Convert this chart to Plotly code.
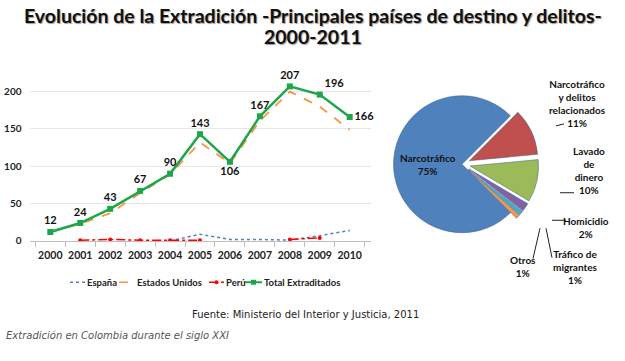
import plotly.graph_objects as go

years = ["2000", "2001", "2002", "2003", "2004", "2005", "2006", "2007", "2008", "2009", "2010"]
espana = [None, None, None, 0, 0, 9, 2, 2, 1, 7, 14]
estados_unidos = [12, 23, 37, 64, 89, 132, 104, 161, 200, 180, 149]
peru = [None, 1, 2, 1, 1, 1, None, None, 2, 4, None]
total = [12, 24, 43, 67, 90, 143, 106, 167, 207, 196, 166]
total_pos = ["top center", "top center", "top center", "top center", "top center", "top center",
             "bottom center", "top center", "top center", "top right", "middle right"]
series_names = ["España", "Estados Unidos", "Perú", "Total Extraditados"]

pie_labels = ["Narcotráfico", "Narcotráfico y delitos relacionados", "Lavado de dinero",
              "Homicidio", "Tráfico de migrantes", "Otros"]
pie_values = [75, 11, 10, 2, 1, 1]
pie_colors = ["#4F81BD", "#C0504D", "#9BBB59", "#8064A2", "#4BACC6", "#F79646"]

W, H = 625, 361
def px(x):
    return x / W
def py(y):
    return (H - y) / H

FONT = "Lato"
C_ES, C_US, C_PE, C_TO = "#4F81BD", "#F79646", "#FF0000", "#1EA64A"

fig = go.Figure()
fig.add_trace(go.Scatter(x=years, y=espana, name=series_names[0], mode="lines",
                         line=dict(color=C_ES, dash="dot", width=1.5)))
fig.add_trace(go.Scatter(x=years, y=estados_unidos, name=series_names[1], mode="lines",
                         line=dict(color=C_US, dash="dash", width=1.8)))
fig.add_trace(go.Scatter(x=years, y=peru, name=series_names[2], mode="lines+markers",
                         line=dict(color=C_PE, dash="dashdot", width=1.5),
                         marker=dict(size=4, color=C_PE), cliponaxis=False))
fig.add_trace(go.Scatter(x=years, y=total, name=series_names[3], mode="lines+markers+text",
                         line=dict(color=C_TO, width=2.5),
                         marker=dict(symbol="square", size=6, color=C_TO),
                         text=[str(v) for v in total], textposition=total_pos,
                         textfont=dict(family=FONT, size=11, color="#111", weight="bold"),
                         cliponaxis=False))

fig.add_trace(go.Pie(labels=pie_labels, values=pie_values, sort=False, direction="clockwise",
                     rotation=135, pull=[0, 0.12, 0.12, 0.12, 0.12, 0.12],
                     marker=dict(colors=pie_colors, line=dict(color="#3a5f8a", width=0.5)),
                     texttemplate=["%{label}<br>%{percent:.0%}", "", "", "", "", ""],
                     textposition="inside", insidetextorientation="horizontal",
                     textfont=dict(family=FONT, size=10, color="#111", weight="bold"),
                     domain=dict(x=[px(384), px(540)], y=[py(245), py(89)]),
                     showlegend=False, hoverinfo="label+percent"))

fig.update_layout(
    width=W, height=H, autosize=False,
    margin=dict(l=0, r=0, t=0, b=0, pad=0),
    paper_bgcolor="white", plot_bgcolor="white",
    font=dict(family=FONT, size=10, color="#222"),
    showlegend=False,
    xaxis=dict(domain=[px(29.5), px(370.5)], type="category", showgrid=False,
               showline=True, linecolor="#BFBFBF", linewidth=1, tickangle=0,
               ticks="outside", tickson="boundaries", ticklen=5, tickcolor="#BFBFBF",
               ticklabelstandoff=4,
               tickfont=dict(family=FONT, size=10.5, color="#222", weight="bold")),
    yaxis=dict(domain=[py(245), py(78)], range=[0, 220], tickvals=[0, 50, 100, 150, 200],
               showgrid=True, gridcolor="#E6E6E6", zeroline=False, showline=False,
               ticklabelstandoff=7,
               tickfont=dict(family=FONT, size=10, color="#222", weight="bold")),
)

ann = []
shapes = []
title_font = dict(family=FONT, size=19.5, color="#111", weight="bold",
                  shadow="1px 1px 1px #999")
ann.append(dict(text="Evolución de la Extradición -Principales países de destino y delitos-",
                x=px(313), y=py(16), xref="paper", yref="paper", showarrow=False,
                xanchor="center", yanchor="middle", font=title_font))
ann.append(dict(text="2000-2011", x=px(313), y=py(37), xref="paper", yref="paper", showarrow=False,
                xanchor="center", yanchor="middle", font=title_font))

# custom compact legend
leg_font = dict(family=FONT, size=9.5, color="#222", weight="bold")
leg_y = 287
leg_items = [(series_names[0], C_ES, "dot", None, 70, 85, 85),
             (series_names[1], C_US, "dash", None, 119, 134, 135),
             (series_names[2], C_PE, "dashdot", "circle", 209, 224, 224),
             (series_names[3], C_TO, "solid", "rect", 245, 262, 262)]
for name, col, dash, mk, x0, x1, tx in leg_items:
    shapes.append(dict(type="line", xref="paper", yref="paper", x0=px(x0), x1=px(x1),
                       y0=py(leg_y), y1=py(leg_y),
                       line=dict(color=col, dash=dash, width=2 if dash == "solid" else 1.5)))
    if mk:
        cx = (x0 + x1) / 2
        r = 2 if mk == "circle" else 2.5
        shapes.append(dict(type=mk, xref="paper", yref="paper", x0=px(cx - r), x1=px(cx + r),
                           y0=py(leg_y + r), y1=py(leg_y - r), fillcolor=col,
                           line=dict(color=col, width=0)))
    ann.append(dict(text=name, x=px(tx), y=py(leg_y), xref="paper", yref="paper",
                    showarrow=False, xanchor="left", yanchor="middle", font=leg_font))

lab_font = dict(family=FONT, size=10, color="#111", weight="bold")
def lab(text, x, y, align="center"):
    ann.append(dict(text=text, x=px(x), y=py(y), xref="paper", yref="paper", showarrow=False,
                    xanchor="center", yanchor="middle", align=align, font=lab_font))

lab("Narcotráfico<br>y delitos<br>relacionados<br>11%", 577, 105)
lab("Lavado<br>de<br>dinero<br>10%", 589, 173)
lab("Homicidio<br>2%", 586, 231)
lab("Tráfico de<br>migrantes<br>1%", 575, 272)
lab("Otros<br>1%", 523, 271)

ann.append(dict(text="Fuente: Ministerio del Interior y Justicia, 2011", x=px(305), y=py(320),
                xref="paper", yref="paper", showarrow=False, xanchor="center", yanchor="middle",
                font=dict(family="DejaVu Sans", size=10, color="#222")))
ann.append(dict(text="<i>Extradición en Colombia durante el siglo XXI</i>", x=px(4), y=py(341),
                xref="paper", yref="paper", showarrow=False, xanchor="left", yanchor="middle",
                font=dict(family="DejaVu Sans", size=10, color="#555")))

def seg(x0, y0, x1, y1, col="#222"):
    shapes.append(dict(type="line", xref="paper", yref="paper", x0=px(x0), y0=py(y0),
                       x1=px(x1), y1=py(y1), line=dict(color=col, width=1)))
seg(556, 128, 564, 126)
seg(560, 196, 574, 196)
seg(552, 224, 566, 224)
seg(546, 232, 552, 262)
seg(540, 232, 533, 263)

fig.update_layout(annotations=ann, shapes=shapes)
post = ("document.documentElement.style.margin='0';document.body.style.margin='0';"
        "document.documentElement.style.overflow='hidden';document.body.style.overflow='hidden';"
        "var d=document.getElementById('{plot_id}');d.style.position='absolute';"
        "d.style.top='0px';d.style.left='0px';")
fig.write_html("out.html", config={"displayModeBar": False}, post_script=post)
